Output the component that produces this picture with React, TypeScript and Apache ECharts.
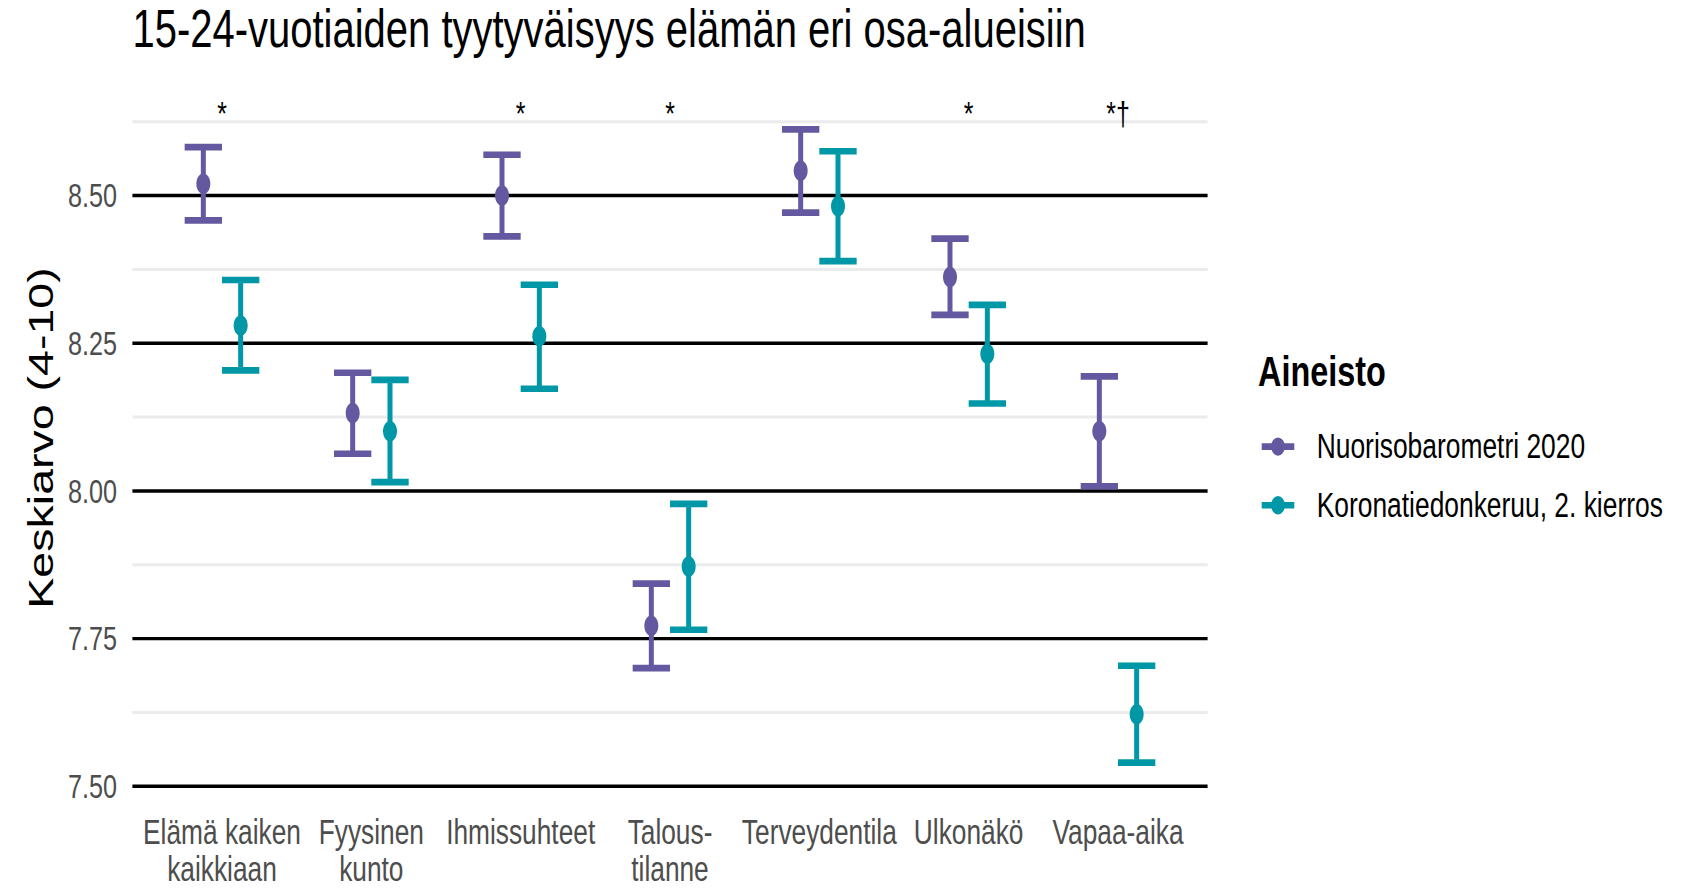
import React, { useEffect, useRef } from 'react';
import * as echarts from 'echarts';

const categories = [
  'Elämä kaiken\nkaikkiaan',
  'Fyysinen\nkunto',
  'Ihmissuhteet',
  'Talous-\ntilanne',
  'Terveydentila',
  'Ulkonäkö',
  'Vapaa-aika',
];
const seriesNames = ['Nuorisobarometri 2020', 'Koronatiedonkeruu, 2. kierros'];
const nuoriMean = [8.52, 8.132, 8.5, 7.772, 8.542, 8.362, 8.101];
const nuoriLow = [8.458, 8.063, 8.431, 7.7, 8.471, 8.298, 8.008];
const nuoriHigh = [8.582, 8.2, 8.569, 7.843, 8.612, 8.427, 8.194];
const koronaMean = [8.28, 8.101, 8.262, 7.872, 8.482, 8.232, 7.622];
const koronaLow = [8.204, 8.015, 8.173, 7.765, 8.389, 8.148, 7.54];
const koronaHigh = [8.357, 8.188, 8.349, 7.978, 8.575, 8.315, 7.704];
const significance = ['*', '', '*', '*', '', '*', '*†'];
const significanceY = 8.64;
const yTicks = [7.5, 7.75, 8.0, 8.25, 8.5];
const yMinor = [7.625, 7.875, 8.125, 8.375, 8.625];

const PURPLE = '#6459A0';
const TEAL = '#0097A7';
const SANS = '"Liberation Sans", Arial, Helvetica, sans-serif';
const STRETCH = 1.33; // the reference picture is stretched vertically
const W = 1685;
const H = 889 / STRETCH;
const X_MIN = 0.4;
const X_MAX = 7.6;
const DODGE = 0.125;
const CAP = 0.25;

const LEGEND_ICON =
  'path://M0 4.4H32.6V9.4H0Z M9.4 6.9A6.9 6.9 0 1 1 23.2 6.9A6.9 6.9 0 1 1 9.4 6.9Z';

function errorBarRender(color: string) {
  return (params: any, api: any) => {
    const x = api.value(0);
    const m = api.value(1);
    const lo = api.value(2);
    const hi = api.value(3);
    const pLo = api.coord([x, lo]);
    const pHi = api.coord([x, hi]);
    const pM = api.coord([x, m]);
    const capW = api.size([CAP, 0])[0];
    const capH = 5;
    return {
      type: 'group',
      children: [
        { type: 'line', shape: { x1: pLo[0], y1: pLo[1], x2: pHi[0], y2: pHi[1] }, style: { stroke: color, lineWidth: 5 } },
        { type: 'rect', shape: { x: pHi[0] - capW / 2, y: pHi[1] - capH / 2, width: capW, height: capH }, style: { fill: color } },
        { type: 'rect', shape: { x: pLo[0] - capW / 2, y: pLo[1] - capH / 2, width: capW, height: capH }, style: { fill: color } },
        { type: 'ellipse', shape: { cx: pM[0], cy: pM[1], rx: 7, ry: 7.7 }, style: { fill: color } },
      ],
    };
  };
}

export default function App() {
  const ref = useRef<HTMLDivElement>(null);
  useEffect(() => {
    if (!ref.current) return;
    const chart = echarts.init(ref.current, null, { renderer: 'svg' });

    const gridData = [
      ...yMinor.map((v) => [X_MIN, v, 0]),
      ...yTicks.map((v) => [X_MIN, v, 1]),
    ];

    const option: any = {
      animation: false,
      backgroundColor: '#ffffff',
      grid: { left: 132.4, right: 477.4, top: 49.3, bottom: 67.65, containLabel: false },
      xAxis: {
        type: 'value',
        min: X_MIN,
        max: X_MAX,
        axisLine: { show: false },
        axisTick: { show: false },
        splitLine: { show: false },
        axisLabel: {
          customValues: categories.map((_, i) => i + 1),
          formatter: (v: number) => categories[Math.round(v) - 1] ?? '',
          color: '#4d4d4d',
          fontFamily: SANS,
          fontSize: 26.3,
          lineHeight: 28.3,
          margin: 11.3,
          verticalAlign: 'top',
          hideOverlap: false,
          showMinLabel: true,
          showMaxLabel: true,
        },
      },
      yAxis: {
        type: 'value',
        min: 7.48,
        max: 8.72,
        axisLine: { show: false },
        axisTick: { show: false },
        splitLine: { show: false },
        axisLabel: {
          customValues: yTicks,
          formatter: (v: number) => v.toFixed(2),
          color: '#4d4d4d',
          fontFamily: SANS,
          fontSize: 25.2,
          margin: 15.4,
          hideOverlap: false,
        },
      },
      legend: {
        orient: 'vertical',
        left: 1256.7,
        top: 317.8,
        itemWidth: 32.6,
        itemHeight: 13.8,
        itemGap: 18.1,
        textStyle: { fontFamily: SANS, fontSize: 26.4, color: '#000', padding: [0, 0, 0, 17.4] },
        data: [
          { name: seriesNames[0], icon: LEGEND_ICON },
          { name: seriesNames[1], icon: LEGEND_ICON },
        ],
      },
      graphic: [
        {
          type: 'text',
          x: 132.4,
          y: 21.6,
          style: {
            text: '15-24-vuotiaiden tyytyväisyys elämän eri osa-alueisiin',
            fontFamily: SANS,
            fontSize: 40,
            fill: '#000',
            align: 'left',
            verticalAlign: 'middle',
          },
        },
        {
          type: 'text',
          x: 41.5,
          y: 329.3,
          rotation: Math.PI / 2,
          style: {
            text: 'Keskiarvo (4-10)',
            fontFamily: SANS,
            fontSize: 35,
            fill: '#000',
            align: 'center',
            verticalAlign: 'middle',
          },
        },
        {
          type: 'text',
          x: 1258,
          y: 278.6,
          style: {
            text: 'Aineisto',
            fontFamily: SANS,
            fontWeight: 'bold',
            fontSize: 32.4,
            fill: '#000',
            align: 'left',
            verticalAlign: 'middle',
          },
        },
      ],
      series: [
        {
          type: 'custom',
          name: 'grid',
          silent: true,
          z: 1,
          data: gridData,
          encode: { x: 0, y: 1 },
          renderItem: (params: any, api: any) => {
            const y = api.value(1);
            const major = api.value(2) === 1;
            const p1 = api.coord([X_MIN, y]);
            const p2 = api.coord([X_MAX, y]);
            return {
              type: 'line',
              shape: { x1: p1[0], y1: p1[1], x2: p2[0], y2: p2[1] },
              style: { stroke: major ? '#000000' : '#ebebeb', lineWidth: major ? 2.6 : 2.25 },
            };
          },
        },
        {
          type: 'custom',
          name: seriesNames[0],
          z: 3,
          itemStyle: { color: PURPLE },
          data: nuoriMean.map((m, i) => [i + 1 - DODGE, m, nuoriLow[i], nuoriHigh[i]]),
          encode: { x: 0, y: [1, 2, 3] },
          renderItem: errorBarRender(PURPLE),
        },
        {
          type: 'custom',
          name: seriesNames[1],
          z: 3,
          itemStyle: { color: TEAL },
          data: koronaMean.map((m, i) => [i + 1 + DODGE, m, koronaLow[i], koronaHigh[i]]),
          encode: { x: 0, y: [1, 2, 3] },
          renderItem: errorBarRender(TEAL),
        },
        {
          type: 'custom',
          name: 'significance',
          silent: true,
          z: 4,
          data: significance.map((_, i) => [i + 1, significanceY]),
          encode: { x: 0, y: 1 },
          renderItem: (params: any, api: any) => {
            const label = significance[params.dataIndex];
            if (!label) return null;
            const p = api.coord([api.value(0), api.value(1)]);
            return {
              type: 'text',
              x: p[0],
              y: p[1],
              style: {
                text: label,
                fontFamily: SANS,
                fontSize: 25,
                fill: '#000',
                align: 'center',
                verticalAlign: 'middle',
              },
            };
          },
        },
      ],
    };
    chart.setOption(option);
    return () => chart.dispose();
  }, []);

  return (
    <div
      ref={ref}
      style={{
        position: 'absolute',
        left: 0,
        top: 0,
        width: W,
        height: H,
        background: '#fff',
        transform: `scaleY(${STRETCH})`,
        transformOrigin: '0 0',
      }}
    />
  );
}
